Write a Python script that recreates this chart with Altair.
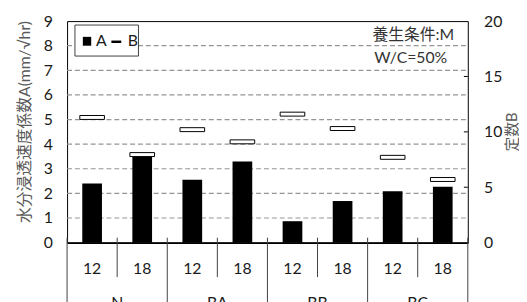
import altair as alt
import pandas as pd

# ---- data ----
groups = ["N", "N", "BA", "BA", "BB", "BB", "BC", "BC"]
ages = ["12", "18", "12", "18", "12", "18", "12", "18"]
coef_a = [2.40, 3.48, 2.55, 3.30, 0.87, 1.69, 2.09, 2.27]
const_b = [11.3, 7.95, 10.2, 9.1, 11.6, 10.3, 7.7, 5.7]
group_names = ["N", "BA", "BB", "BC"]
left_ticks = list(range(10))
right_ticks = [0, 5, 10, 15, 20]
grid_values = list(range(1, 9))
right_inner_ticks = [5, 10, 15]

keys = [f"{g}|{a}" for g, a in zip(groups, ages)]
df = pd.DataFrame({"key": keys, "group": groups, "age": ages, "A": coef_a, "B": const_b})

FONT = "Lato, 'Noto Sans CJK JP', sans-serif"
TXT = "#1a1a1a"
GRAY = "#595959"

xscale = alt.Scale(domain=keys, paddingInner=0, paddingOuter=0)
yA = alt.Scale(domain=[0, 9], nice=False, zero=True)
yB = alt.Scale(domain=[0, 20], nice=False, zero=True)

x_axis = alt.Axis(
    title=None, labelExpr="split(datum.value, '|')[1]", ticks=False, tickSize=0,
    labelPadding=26, labelBaseline="middle", labelAngle=0, labelFontSize=16,
    labelFont=FONT, labelColor=TXT, domainColor="#000", domainWidth=2, grid=False,
)
left_axis = alt.Axis(
    values=left_ticks, title="水分浸透速度係数A(mm/√hr)", titleAngle=270, titleX=-43,
    titleY=102, titleAlign="center", titleBaseline="middle", titleFontSize=16,
    titleFontWeight="normal", titleColor=GRAY, titleFont=FONT, labelFontSize=16,
    labelFont=FONT, labelColor=TXT, labelPadding=15, ticks=False, tickSize=0,
    domain=False, grid=False,
)
right_axis = alt.Axis(
    orient="right", values=right_ticks, title="定数B", titleAngle=270, titleX=44,
    titleY=112, titleAlign="center", titleBaseline="middle", titleFontSize=15,
    titleFontWeight="normal", titleColor=GRAY, titleFont=FONT, labelFontSize=16,
    labelFont=FONT, labelColor=TXT, labelPadding=16, ticks=False, tickSize=0,
    domain=False, grid=False,
)

X = alt.X("key:N", scale=xscale, axis=x_axis, sort=keys)

gridlines = alt.Chart(pd.DataFrame({"v": grid_values})).mark_rule(
    color="#959595", strokeWidth=1.2, strokeDash=[5, 3]
).encode(
    x=alt.value(0), x2=alt.value(407),
    y=alt.Y("v:Q", scale=yA, axis=left_axis),
)
bars = alt.Chart(df).mark_bar(color="#000", size=20).encode(
    x=X, y=alt.Y("A:Q", scale=yA, axis=left_axis)
)
layer_a = alt.layer(gridlines, bars)

markers = alt.Chart(df).mark_tick(
    fill="#fff", stroke="#000", strokeWidth=1, size=25, thickness=4, opacity=1, filled=True
).encode(x=X, y=alt.Y("B:Q", scale=yB, axis=right_axis))
rticks = alt.Chart(pd.DataFrame({"t": right_inner_ticks})).mark_rule(
    color="#000", strokeWidth=1
).encode(x=alt.value(403), x2=alt.value(407), y=alt.Y("t:Q", scale=yB, axis=right_axis))
layer_b = alt.layer(markers, rticks)

# category separators below the axis
sep_short = alt.Chart(pd.DataFrame({"key": [k for k in keys if k.endswith("|18")]})).mark_rule(
    color="#404040", strokeWidth=1
).encode(x=alt.X("key:N", scale=xscale, bandPosition=0, axis=x_axis), y=alt.value(220), y2=alt.value(260))
sep_long = alt.Chart(pd.DataFrame({"key": [k for k in keys if k.endswith("|12")]})).mark_rule(
    color="#404040", strokeWidth=1
).encode(x=alt.X("key:N", scale=xscale, bandPosition=0, axis=x_axis), y=alt.value(220), y2=alt.value(300))
sep_end = alt.Chart(pd.DataFrame({"key": [keys[-1]]})).mark_rule(
    color="#404040", strokeWidth=1
).encode(x=alt.X("key:N", scale=xscale, bandPosition=1, axis=x_axis), y=alt.value(220), y2=alt.value(300))
group_text = alt.Chart(pd.DataFrame({"key": [f"{g}|18" for g in group_names], "g": group_names})).mark_text(
    font=FONT, fontSize=16, color=TXT, baseline="top", align="center"
).encode(x=alt.X("key:N", scale=xscale, bandPosition=0, axis=x_axis), y=alt.value(278), text="g:N")

# legend box
leg_box = alt.Chart(pd.DataFrame({"a": [0]})).mark_rect(
    fill="#fff", stroke="#404040", strokeWidth=1
).encode(x=alt.value(8), x2=alt.value(72.5), y=alt.value(4), y2=alt.value(35.5))
leg_sq = alt.Chart(pd.DataFrame({"a": [0]})).mark_rect(fill="#000").encode(
    x=alt.value(16), x2=alt.value(24.5), y=alt.value(16), y2=alt.value(25)
)
leg_dash = alt.Chart(pd.DataFrame({"a": [0]})).mark_rule(color="#000", strokeWidth=2.5).encode(
    x=alt.value(45), x2=alt.value(55), y=alt.value(21)
)
leg_labels = alt.Chart(pd.DataFrame({"t": ["A", "B"], "px": [29.5, 61.5]})).mark_text(
    font=FONT, fontSize=16, color=TXT, align="left", baseline="middle"
).encode(x=alt.X("px:Q", scale=None), y=alt.value(20.5), text="t:N")

note1 = alt.Chart(pd.DataFrame({"t": ["養生条件:M"]})).mark_text(
    font=FONT, fontSize=16, color="#333", align="right", baseline="middle"
).encode(x=alt.value(393), y=alt.value(14.5), text="t:N")
note2 = alt.Chart(pd.DataFrame({"t": ["W/C=50%"]})).mark_text(
    font=FONT, fontSize=16, color="#333", align="center", baseline="middle"
).encode(x=alt.value(349), y=alt.value(38), text="t:N")

chart = alt.layer(
    layer_a, layer_b, sep_short, sep_long, sep_end, group_text,
    leg_box, leg_sq, leg_dash, leg_labels, note1, note2,
).resolve_scale(y="independent").properties(
    width=407, height=225,
    autosize=alt.AutoSizeParams(type="none"),
    padding={"left": 60, "top": 11, "right": 52, "bottom": 58},
).configure_view(stroke="#000", strokeWidth=1)

chart.save("out.html", embed_options={"renderer": "svg", "actions": False})
